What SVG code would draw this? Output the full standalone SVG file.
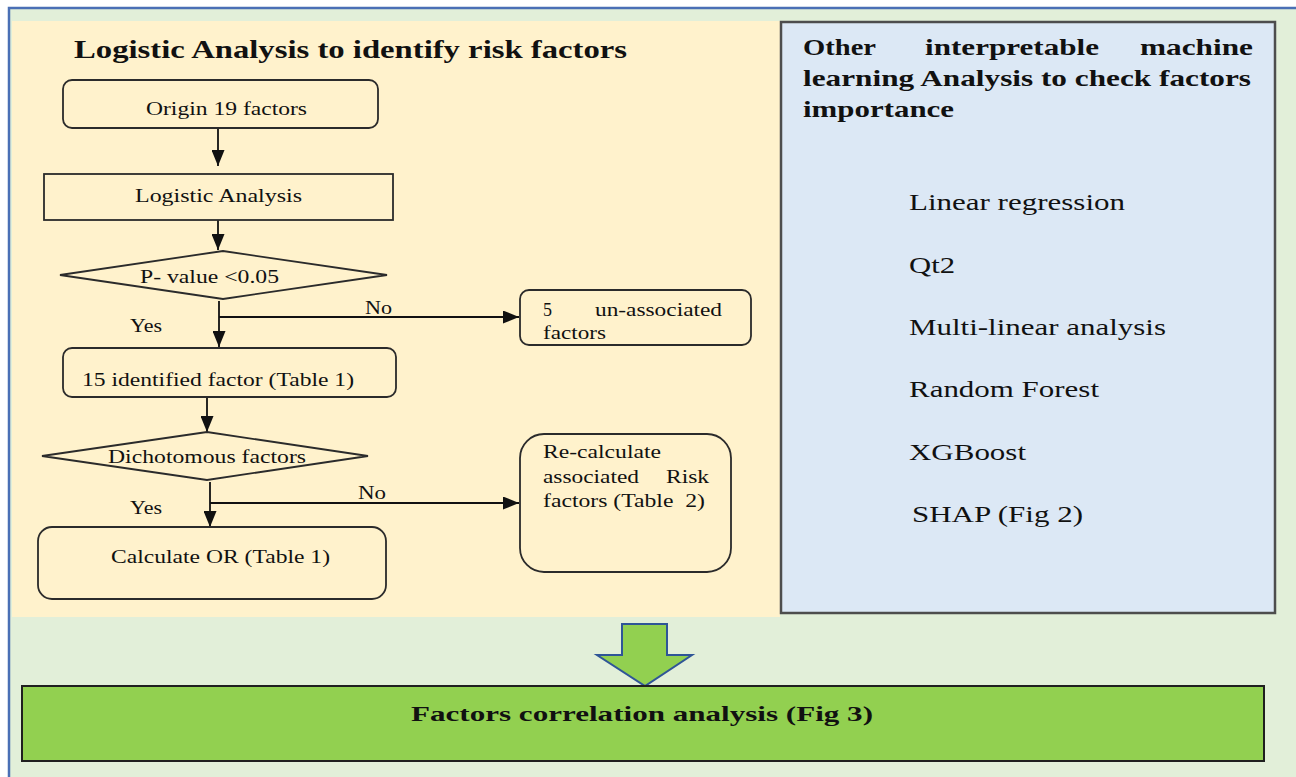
<svg xmlns="http://www.w3.org/2000/svg" width="1296" height="777" viewBox="0 0 1296 777">
<style>
.box{fill:none;stroke:#2b2b2b;stroke-width:1.8}
.t{font-family:"Liberation Serif","Times New Roman",serif;fill:#111;font-size:18px}
.tb{font-family:"Liberation Serif","Times New Roman",serif;fill:#111;font-weight:bold}
.lst{font-family:"Liberation Serif","Times New Roman",serif;fill:#111;font-size:23px}
.edge{fill:none;stroke:#111;stroke-width:1.8}
</style>
<defs>
<marker id="ah" viewBox="0 0 16 13" refX="16" refY="6.5" markerWidth="16" markerHeight="13" markerUnits="userSpaceOnUse" orient="auto">
<path d="M0,0 L16,6.5 L0,13 z" fill="#111"/>
</marker>
</defs>
<rect x="0" y="0" width="1296" height="777" fill="#ffffff"/>
<rect x="9" y="8" width="1300" height="790" fill="#E2EFD9" stroke="#4A6FB5" stroke-width="2.5"/>
<rect x="12" y="21" width="768" height="596" fill="#FFF2CC"/>
<g id="title"><text class="tb" x="74" y="58" font-size="25" textLength="553" lengthAdjust="spacingAndGlyphs">Logistic Analysis to identify risk factors</text></g>

<g id="ml-panel">
<rect x="781" y="22" width="494" height="591" fill="#DCE8F5" stroke="#4d4d4d" stroke-width="2.5"/>
<text class="tb" font-size="23" x="803" y="55" textLength="73" lengthAdjust="spacingAndGlyphs">Other</text>
<text class="tb" font-size="23" x="925" y="55" textLength="174" lengthAdjust="spacingAndGlyphs">interpretable</text>
<text class="tb" font-size="23" x="1140" y="55" textLength="113" lengthAdjust="spacingAndGlyphs">machine</text>
<text class="tb" font-size="23" x="803" y="86" textLength="448" lengthAdjust="spacingAndGlyphs">learning Analysis to check factors</text>
<text class="tb" font-size="23" x="803" y="117" textLength="151" lengthAdjust="spacingAndGlyphs">importance</text>
<text class="lst" x="909" y="210" textLength="216" lengthAdjust="spacingAndGlyphs">Linear regression</text>
<text class="lst" x="909" y="273" textLength="46" lengthAdjust="spacingAndGlyphs">Qt2</text>
<text class="lst" x="909" y="335" textLength="257" lengthAdjust="spacingAndGlyphs">Multi-linear analysis</text>
<text class="lst" x="909" y="397" textLength="190" lengthAdjust="spacingAndGlyphs">Random Forest</text>
<text class="lst" x="909" y="460" textLength="117" lengthAdjust="spacingAndGlyphs">XGBoost</text>
<text class="lst" x="912" y="522" textLength="171" lengthAdjust="spacingAndGlyphs">SHAP (Fig 2)</text>
</g>

<g id="connectors">
<line class="edge" x1="218" y1="128" x2="218" y2="166" marker-end="url(#ah)"/>
<line class="edge" x1="218" y1="220" x2="218" y2="250" marker-end="url(#ah)"/>
<line class="edge" x1="219" y1="301" x2="219" y2="347" marker-end="url(#ah)"/>
<line class="edge" x1="219" y1="317" x2="519" y2="317" marker-end="url(#ah)"/>
<line class="edge" x1="207" y1="397" x2="207" y2="432" marker-end="url(#ah)"/>
<line class="edge" x1="210" y1="482" x2="210" y2="527" marker-end="url(#ah)"/>
<line class="edge" x1="210" y1="503" x2="519" y2="503" marker-end="url(#ah)"/>
<text class="t" x="365" y="314" textLength="27" lengthAdjust="spacingAndGlyphs">No</text>
<text class="t" x="130" y="332" textLength="32" lengthAdjust="spacingAndGlyphs">Yes</text>
<text class="t" x="358" y="499" textLength="28" lengthAdjust="spacingAndGlyphs">No</text>
<text class="t" x="130" y="514" textLength="32" lengthAdjust="spacingAndGlyphs">Yes</text>
</g>

<g id="n-origin">
<rect class="box" x="63" y="80" width="315" height="48" rx="9"/>
<text class="t" x="146" y="115" textLength="161" lengthAdjust="spacingAndGlyphs">Origin 19 factors</text>
</g>
<g id="n-logistic">
<rect class="box" x="44" y="174" width="349" height="46"/>
<text class="t" x="135" y="202" textLength="167" lengthAdjust="spacingAndGlyphs">Logistic Analysis</text>
</g>
<g id="n-pvalue">
<polygon class="box" points="60,275 223,251 387,275 223,299"/>
<text class="t" x="140" y="283" textLength="139" lengthAdjust="spacingAndGlyphs">P- value &lt;0.05</text>
</g>
<g id="n-unassoc">
<rect class="box" x="520" y="290" width="231" height="55" rx="9"/>
<text class="t" x="543" y="316">5</text>
<text class="t" x="595" y="316" textLength="127" lengthAdjust="spacingAndGlyphs">un-associated</text>
<text class="t" x="543" y="339" textLength="63" lengthAdjust="spacingAndGlyphs">factors</text>
</g>
<g id="n-identified">
<rect class="box" x="63" y="348" width="333" height="49" rx="9"/>
<text class="t" x="82" y="386" textLength="272" lengthAdjust="spacingAndGlyphs">15 identified factor (Table 1)</text>
</g>
<g id="n-dicho">
<polygon class="box" points="42,456 207,432 368,456 207,480"/>
<text class="t" x="108" y="463" textLength="198" lengthAdjust="spacingAndGlyphs">Dichotomous factors</text>
</g>
<g id="n-calcor">
<rect class="box" x="38" y="527" width="348" height="72" rx="14"/>
<text class="t" x="111" y="563" textLength="219" lengthAdjust="spacingAndGlyphs">Calculate OR (Table 1)</text>
</g>
<g id="n-recalc">
<rect class="box" x="520" y="434" width="211" height="138" rx="24"/>
<text class="t" x="543" y="458" textLength="118" lengthAdjust="spacingAndGlyphs">Re-calculate</text>
<text class="t" x="543" y="483" textLength="96" lengthAdjust="spacingAndGlyphs">associated</text>
<text class="t" x="666" y="483" textLength="43" lengthAdjust="spacingAndGlyphs">Risk</text>
<text class="t" x="543" y="507" textLength="162" lengthAdjust="spacingAndGlyphs" xml:space="preserve">factors (Table  2)</text>
</g>

<g id="big-arrow">
<polygon points="622,624 667,624 667,655 692,655 645,686 597,655 622,655" fill="#92D050" stroke="#2F5597" stroke-width="2"/>
</g>
<g id="n-correlation">
<rect x="22" y="686" width="1242" height="75" fill="#92D050" stroke="#1f1f1f" stroke-width="2"/>
<text class="tb" font-size="22" x="411" y="721" textLength="462" lengthAdjust="spacingAndGlyphs">Factors correlation analysis (Fig 3)</text>
</g>
</svg>
